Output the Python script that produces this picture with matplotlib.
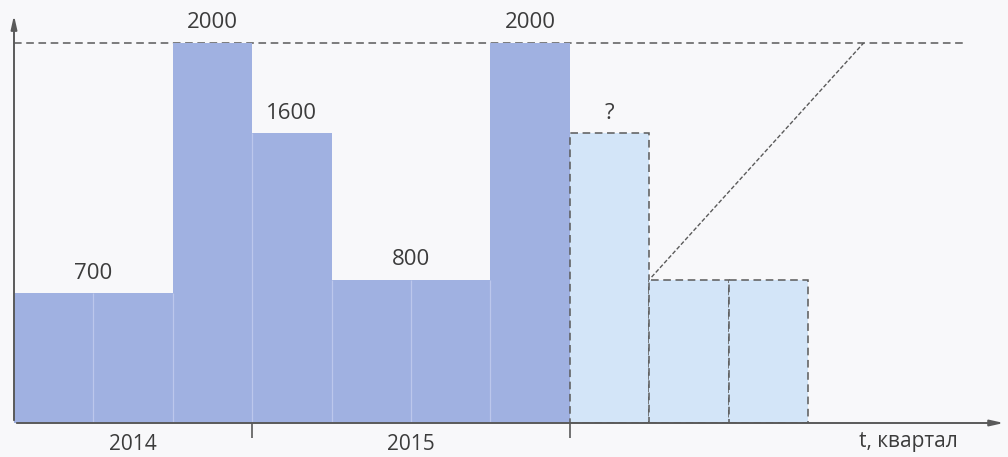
import matplotlib.pyplot as plt

plt.rcParams['font.family'] = ['Open Sans', 'DejaVu Sans']

# quarters: 2014 Q2..Q4, 2015 Q1..Q4, 2016 Q1..Q3 (forecast)
quarters = list(range(10))
heights = [684, 684, 2000, 1526, 753, 753, 2000, 1526, 753, 753]
forecast = [False] * 7 + [True] * 3
value_labels = ['700', '2000', '1600', '800', '2000', '?']
label_pos = [1.0, 2.5, 3.5, 5.0, 6.5, 7.5]
label_h = [684, 2000, 1526, 753, 2000, 1526]
years = ['2014', '2015']
year_pos = [1.5, 5.0]
year_ticks = [3, 7]
level = 2000

DARK = '#a0b1e1'
LIGHT = '#d3e5f8'
LINE = '#5a5a5a'
TEXT = '#3c3c3c'

fig = plt.figure(figsize=(10.08, 4.57), dpi=100, facecolor='#f8f8fa')
ax = fig.add_axes([14 / 1008, 34 / 457, 994 / 1008, 413 / 457])
ax.set_facecolor('none')
ax.set_xlim(0, 994 / 79.4)
ax.set_ylim(0, 413 / 380 * 2000)

for q, h, f in zip(quarters, heights, forecast):
    if f:
        ax.bar(q + 0.5, h, width=1, color=LIGHT, edgecolor=LINE, linewidth=1.1,
               linestyle=(0, (5, 3)), zorder=2)
    else:
        ax.bar(q + 0.5, h, width=1, color=DARK, edgecolor='none', zorder=2)

# thin lighter lines between solid quarters
for q in range(1, 7):
    ax.vlines(q, 0, min(heights[q - 1], heights[q]), color='#bcc7ec', lw=0.9, zorder=3)

# reference level and trend line
ax.plot([0, 12], [level, level], color=LINE, lw=1.1, ls=(0, (5, 3)), zorder=1)
ax.plot([8.03, 10.7], [heights[8] + 15, level], color=LINE, lw=1.0, ls=(0, (3, 1.5)), zorder=1)

# axes with arrows
ax.annotate('', xy=(0, 2160), xytext=(0, 0),
            arrowprops=dict(arrowstyle='-|>,head_length=0.8,head_width=0.18', color=LINE, lw=1.4),
            annotation_clip=False)
ax.annotate('', xy=(12.5, 0), xytext=(0, 0),
            arrowprops=dict(arrowstyle='-|>,head_length=0.8,head_width=0.18', color=LINE, lw=1.4),
            annotation_clip=False)
for s in ax.spines.values():
    s.set_visible(False)
ax.set_yticks([])
ax.set_xticks(year_ticks)
ax.set_xticklabels([])
ax.tick_params(axis='x', length=11, width=1.2, color=LINE, direction='out')

for x, h, t in zip(label_pos, label_h, value_labels):
    ax.text(x, h + 50, t, ha='center', va='bottom', fontsize=16, color=TEXT)

for x, t in zip(year_pos, years):
    ax.text(x, -115, t, ha='center', va='center', fontsize=15, color=TEXT)
ax.text(11.26, -95, 't, квартал', ha='center', va='center', fontsize=15, color=TEXT)

fig.savefig('out.png', dpi=100, facecolor=fig.get_facecolor())
